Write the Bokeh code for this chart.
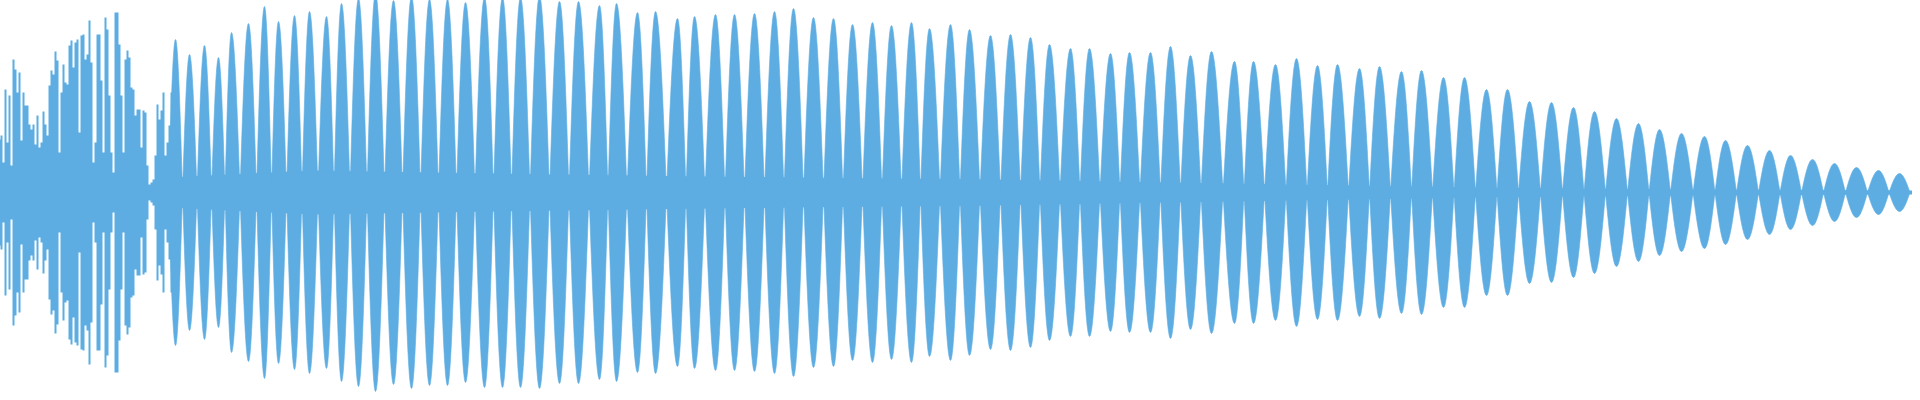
import numpy as np
from bokeh.plotting import figure
from bokeh.models import Range1d
from bokeh.embed import file_html
from bokeh.resources import INLINE

COLOR = "#5DADE2"

# --- Onset (noisy attack) : sample positions and peak amplitudes ---
onset_pos = list(range(0, 182, 2))
onset_amp = [40, 28, 37, 53, 57, 30, 103, 50, 97, 27,
             133, 123, 100, 120, 52, 100, 87, 87, 68, 63,
             68, 48, 77, 45, 50, 81, 68, 57, 107, 122,
             118, 141, 132, 40, 100, 128, 110, 108, 147, 152,
             125, 150, 153, 60, 157, 158, 133, 138, 172, 130,
             30, 50, 158, 158, 112, 40, 175, 163, 97, 40,
             20, 180, 180, 148, 97, 40, 133, 142, 135, 105,
             103, 77, 83, 83, 45, 82, 80, 27, 8, 10,
             13, 37, 88, 73, 82, 100, 37, 50, 67, 100, 105]

# --- Sustained part : lobe centres and peak amplitudes ---
lobe_pos = [183, 197, 212, 226, 239, 256, 272, 286, 302, 317,
            334, 349, 366, 383, 401, 419, 437, 455, 473, 492,
            510, 528, 547, 567, 586, 607, 624, 645, 663, 685,
            702, 723, 742, 762, 782, 801, 821, 841, 860, 880,
            899, 919, 937, 958, 977, 998, 1018, 1038, 1057, 1078,
            1097, 1118, 1137, 1158, 1178, 1198, 1219, 1242, 1261, 1283,
            1304, 1325, 1345, 1367, 1387, 1409, 1429, 1451, 1472, 1494,
            1515, 1537, 1559, 1581, 1602, 1624, 1646, 1667, 1689, 1712,
            1733, 1755, 1777, 1798, 1820, 1842, 1864, 1886, 1907]
lobe_amp = [153, 138, 147, 135, 160, 169, 186, 171, 177, 181,
            176, 189, 194, 199, 192, 196, 193, 193, 190, 195,
            195, 195, 196, 191, 191, 187, 189, 180, 181, 174,
            176, 178, 178, 179, 181, 184, 175, 174, 168, 170,
            167, 170, 164, 168, 163, 157, 158, 155, 148, 144,
            144, 139, 140, 140, 146, 137, 141, 131, 131, 128,
            134, 127, 128, 124, 126, 121, 122, 115, 115, 103,
            103, 91, 90, 85, 81, 74, 69, 63, 59, 56,
            52, 47, 42, 37, 33, 29, 25, 22, 19]

# --- Low-level floor between lobes ---
floor_pos = [176, 320, 560, 800, 1000, 1240, 1480, 1700, 1920]
floor_amp = [15, 22, 18, 15, 13, 9, 5, 3, 2]

p = figure(width=1920, height=400, output_backend="svg", toolbar_location=None,
           x_range=Range1d(0, 1920), y_range=Range1d(-200, 200),
           min_border=0, outline_line_color=None, background_fill_color="white",
           border_fill_color="white")
p.styles = {"margin": "-8px"}
p.axis.visible = False
p.grid.visible = False

# floor band
fa = np.array(floor_amp, dtype=float)
p.varea(x=floor_pos, y1=-fa, y2=fa, fill_color=COLOR)

# onset: one stepped filled area (each value held over its 2-sample bin)
op = np.array(onset_pos, dtype=float)
oa = np.array(onset_amp, dtype=float)
ox = np.column_stack([op, op + 2]).ravel()
oy = np.repeat(oa, 2)
p.varea(x=ox, y1=-oy, y2=oy, fill_color=COLOR)

# lobes: sine-shaped swells between neighbouring midpoints
lp = np.array(lobe_pos, dtype=float)
la = np.array(lobe_amp, dtype=float)
d = np.diff(lp)
left_hw = np.concatenate([[d[0]], d]) / 2
right_hw = np.concatenate([d, [d[-1]]]) / 2
t = np.linspace(0, 1, 16)
xs, ys = [], []
for c, a, lh, rh in zip(lp, la, left_hw, right_hw):
    xl = c - lh * t[::-1]
    xr = c + rh * t[1:]
    top_x = np.concatenate([xl, xr])
    top_y = np.concatenate([a * np.cos(np.pi / 2 * t[::-1]), a * np.cos(np.pi / 2 * t[1:])])
    xs.append(np.concatenate([top_x, top_x[::-1]]).tolist())
    ys.append(np.concatenate([top_y, -top_y[::-1]]).tolist())
p.patches(xs=xs, ys=ys, fill_color=COLOR, line_color=COLOR, line_width=0.6)

open("out.html", "w").write(file_html(p, INLINE))
